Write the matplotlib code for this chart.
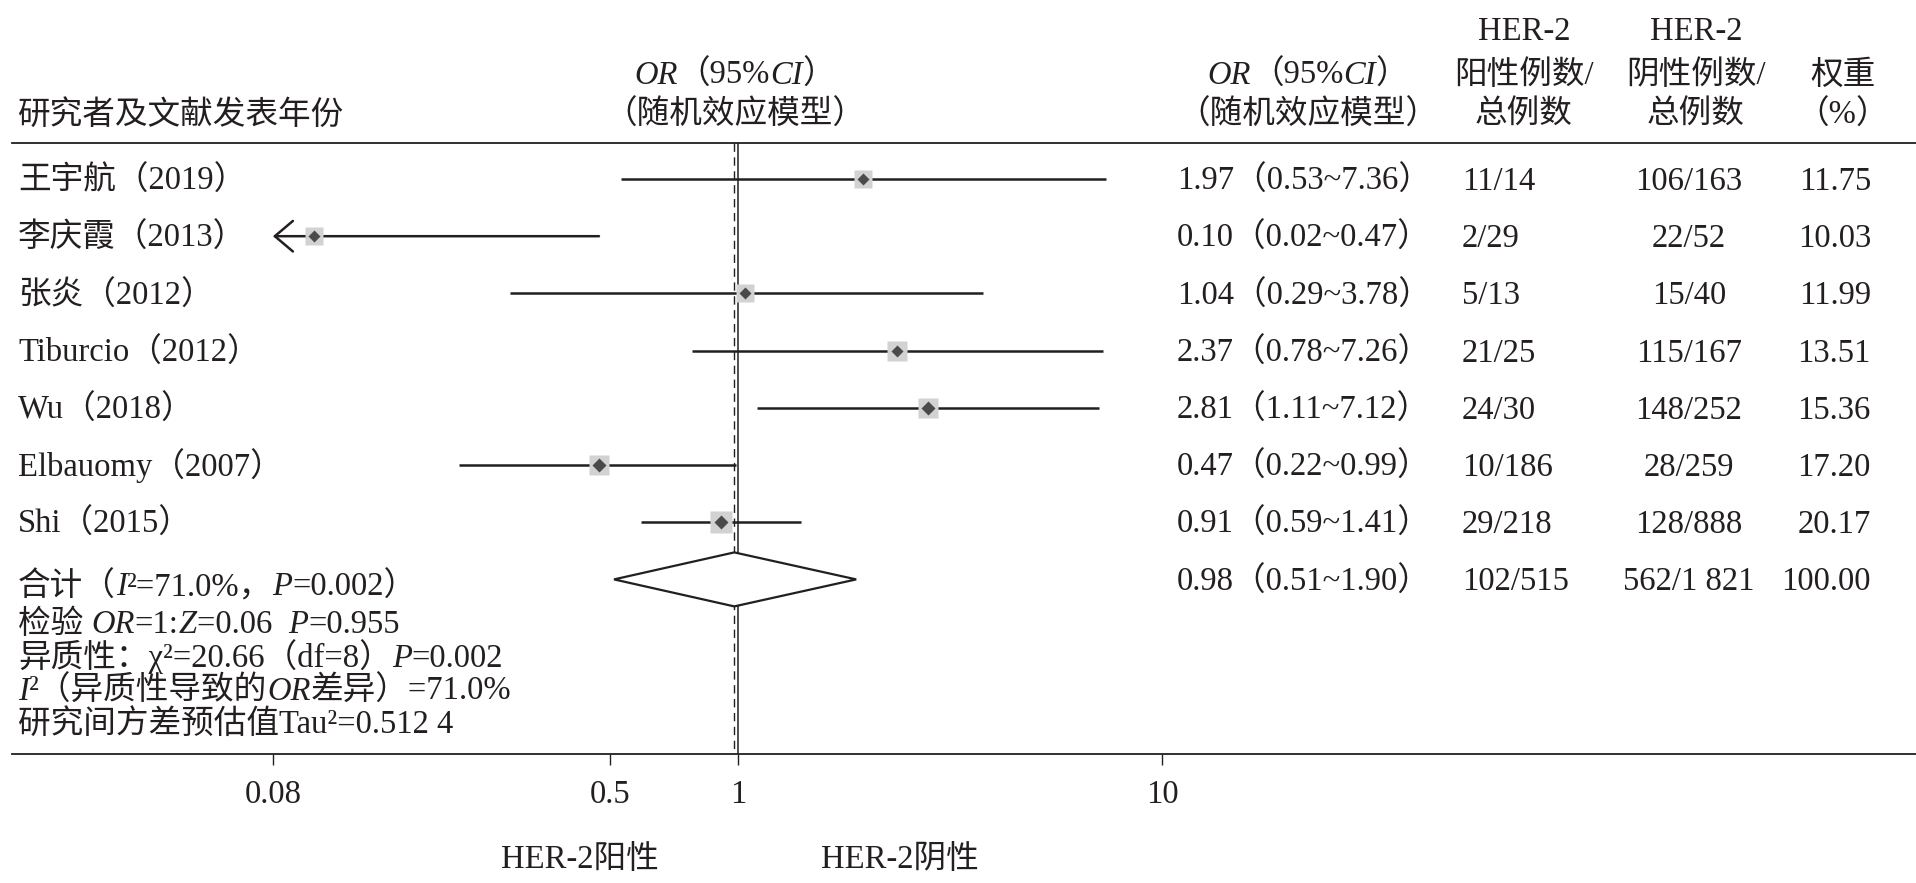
import matplotlib
matplotlib.use("Agg")
import matplotlib.pyplot as plt
from matplotlib.transforms import blended_transform_factory

plt.rcParams['font.family'] = ['Liberation Serif', 'Noto Sans CJK SC']

# ---- data ----
studies = ['王宇航（2019）', '李庆霞（2013）', '张炎（2012）', 'Tiburcio（2012）',
           'Wu（2018）', 'Elbauomy（2007）', 'Shi（2015）']
or_vals = [1.97, 0.10, 1.04, 2.37, 2.81, 0.47, 0.91]
ci_lo = [0.53, 0.02, 0.29, 0.78, 1.11, 0.22, 0.59]
ci_hi = [7.36, 0.47, 3.78, 7.26, 7.12, 0.99, 1.41]
pos_counts = ['11/14', '2/29', '5/13', '21/25', '24/30', '10/186', '29/218']
neg_counts = ['106/163', '22/52', '15/40', '115/167', '148/252', '28/259', '128/888']
weights = [11.75, 10.03, 11.99, 13.51, 15.36, 17.20, 20.17]

total_or, total_lo, total_hi = 0.98, 0.51, 1.90
total_pos, total_neg, total_w = '102/515', '562/1 821', '100.00'

i2 = '71.0%'
p_het = '0.002'
z_val, p_z = '0.06', '0.955'
chi2, df = '20.66', 8
tau2 = '0.512 4'

x_ticks = [0.08, 0.5, 1, 10]
x_ticklabels = ['0.08', '0.5', '1', '10']
clip_lo = 0.08

# ---- layout (pixels) ----
W, H = 1916, 883
X_ONE = 738      # pixel of OR = 1
DECADE = 424     # pixels per decade
ROW0, ROWSTEP = 179, 57.2
TOP_LINE, BOT_LINE = 143, 754
FS = 23.5
INK = '#231f20'

fig = plt.figure(figsize=(W / 100, H / 100), dpi=100)
ax = fig.add_axes([0, 0, 1, 1])
ax.set_xscale('log')
ax.set_xlim(10 ** (-X_ONE / DECADE), 10 ** ((W - X_ONE) / DECADE))
ax.set_ylim(H, 0)
ax.axis('off')

tr = blended_transform_factory(fig.transFigure, ax.transData)
renderer = fig.canvas.get_renderer()
BASE = 11  # baseline offset below row centre


def txt(x, y, s, ha='left', style='normal'):
    return ax.text(x / W, y + BASE, s, transform=tr, ha=ha, va='baseline',
                   fontsize=FS, color=INK, style=style)


def rich(x, y, parts, ha='left'):
    items = [txt(0, y, s, style=st) for s, st in parts]
    widths = [t.get_window_extent(renderer).width for t in items]
    start = x - sum(widths) / 2 if ha == 'center' else x
    for t, w in zip(items, widths):
        t.set_x(start / W)
        start += w


rows_y = [ROW0 + i * ROWSTEP for i in range(len(studies))]
total_y = ROW0 + len(studies) * ROWSTEP

# horizontal rules
ax.plot([12 / W, 1], [TOP_LINE, TOP_LINE], color=INK, lw=1.3, transform=tr)
ax.plot([12 / W, 1], [BOT_LINE, BOT_LINE], color=INK, lw=1.3, transform=tr)

# reference lines
ax.vlines(1, TOP_LINE, BOT_LINE, color=INK, lw=1.1)
ax.vlines(total_or, TOP_LINE, BOT_LINE, color=INK, lw=1.0, linestyles=(0, (6, 4)))

# ticks on bottom rule
ax.vlines(x_ticks, BOT_LINE, BOT_LINE + 11, color=INK, lw=1.0)
for t, lab in zip(x_ticks, x_ticklabels):
    ax.text(t, 792 + BASE, lab, ha='center', va='baseline', fontsize=FS, color=INK)

# study rows
for y, o, lo, hi, w in zip(rows_y, or_vals, ci_lo, ci_hi, weights):
    if lo < clip_lo:
        ax.annotate('', xy=(clip_lo, y), xytext=(hi, y),
                    arrowprops=dict(arrowstyle='->,head_length=0.65,head_width=0.55',
                                    color=INK, lw=1.8, shrinkA=0, shrinkB=0,
                                    mutation_scale=20))
    else:
        ax.hlines(y, lo, hi, color=INK, lw=1.8)
    side = 14 + 0.4 * w
    ax.plot(o, y, marker='s', ms=side * 0.72, color='#d2d2d2', mec='none', zorder=3)
    ax.plot(o, y, marker='D', ms=side * 0.34, color='#4a4a4a', mec='none', zorder=4)

# pooled diamond
half_h = 27
ax.fill([total_lo, total_or, total_hi, total_or],
        [total_y, total_y - half_h, total_y, total_y + half_h],
        facecolor='white', edgecolor=INK, lw=1.6, zorder=3)

# headers
txt(18, 113, '研究者及文献发表年份')
rich(735, 73, [('OR', 'italic'), ('（95%', 'normal'), ('CI', 'italic'), ('）', 'normal')], ha='center')
txt(735, 113, '（随机效应模型）', ha='center')
rich(1308, 73, [('OR', 'italic'), ('（95%', 'normal'), ('CI', 'italic'), ('）', 'normal')], ha='center')
txt(1308, 113, '（随机效应模型）', ha='center')
txt(1524, 29, 'HER-2', ha='center')
txt(1524, 73, '阳性例数/', ha='center')
txt(1524, 113, '总例数', ha='center')
txt(1696, 29, 'HER-2', ha='center')
txt(1696, 73, '阴性例数/', ha='center')
txt(1696, 113, '总例数', ha='center')
txt(1843, 73, '权重', ha='center')
txt(1843, 113, '（%）', ha='center')

# table columns
for y, name, o, lo, hi, p, n, w in zip(rows_y, studies, or_vals, ci_lo, ci_hi,
                                       pos_counts, neg_counts, weights):
    txt(18, y, name)
    txt(1177, y, f'{o:.2f}（{lo:.2f}~{hi:.2f}）')
    txt(1462, y, p)
    txt(1689, y, n, ha='center')
    txt(1871, y, f'{w:.2f}', ha='right')

txt(1177, total_y, f'{total_or:.2f}（{total_lo:.2f}~{total_hi:.2f}）')
txt(1462, total_y, total_pos)
txt(1689, total_y, total_neg, ha='center')
txt(1871, total_y, total_w, ha='right')

# summary statistics
rich(18, total_y + 5, [('合计（', 'normal'), ('I', 'italic'), (f'²={i2}，', 'normal'),
                       ('P', 'italic'), (f'={p_het}）', 'normal')])
rich(18, 622, [('检验 ', 'normal'), ('OR', 'italic'), ('=1:', 'normal'), ('Z', 'italic'),
               (f'={z_val}  ', 'normal'), ('P', 'italic'), (f'={p_z}', 'normal')])
rich(18, 656, [(f'异质性：χ²={chi2}（df={df}）', 'normal'), ('P', 'italic'),
               (f'={p_het}', 'normal')])
rich(18, 689, [('I', 'italic'), ('²（异质性导致的', 'normal'), ('OR', 'italic'),
               (f'差异）={i2}', 'normal')])
txt(18, 722, f'研究间方差预估值Tau²={tau2}')

# direction labels
txt(580, 857, 'HER-2阳性', ha='center')
txt(900, 857, 'HER-2阴性', ha='center')

fig.savefig('out.png', dpi=100)
